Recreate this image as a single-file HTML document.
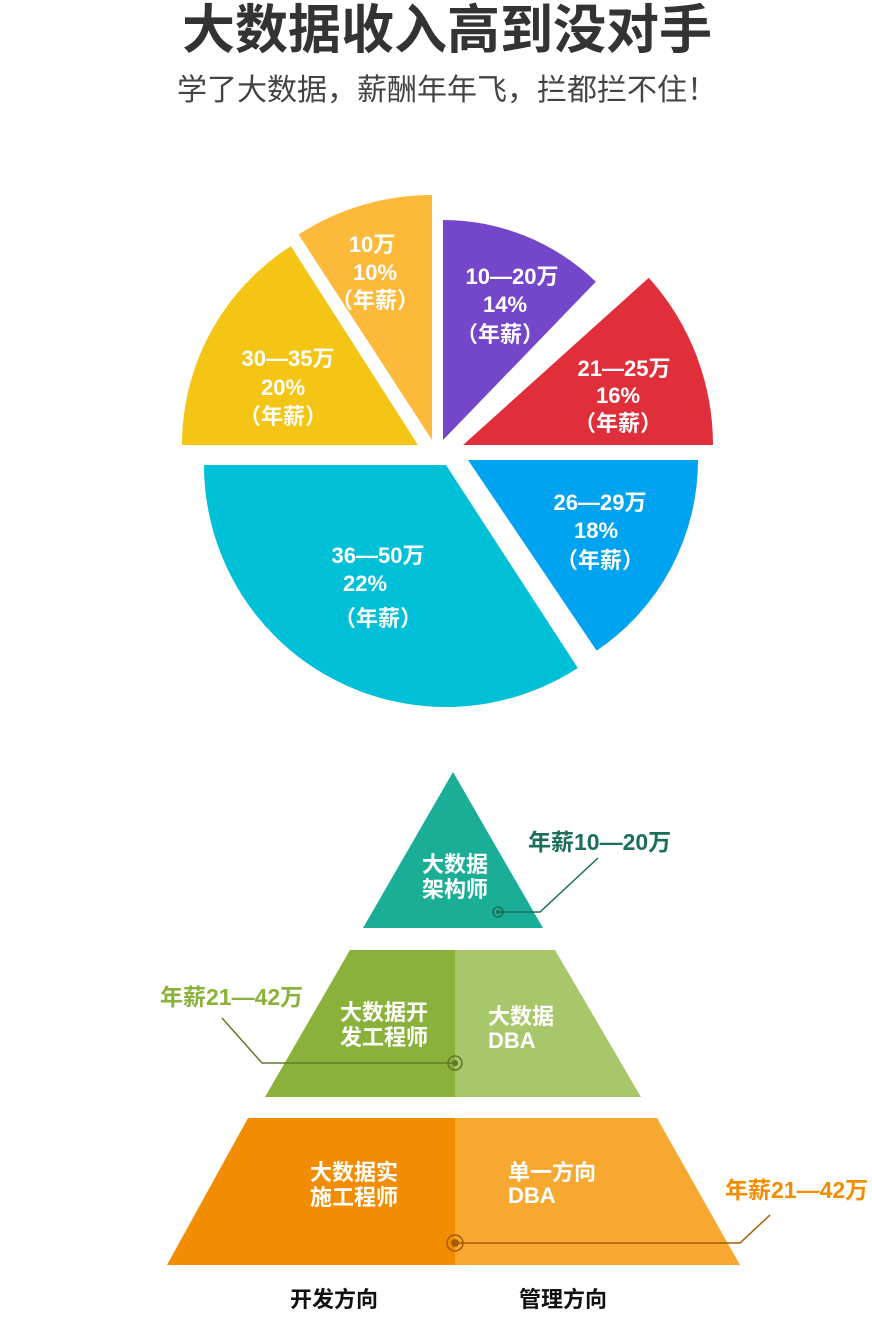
<!DOCTYPE html>
<html><head><meta charset="utf-8"><style>
body{margin:0;background:#fff;width:872px;height:1312px;overflow:hidden;font-family:"Liberation Sans","Noto Sans CJK SC",sans-serif}
</style></head><body>
<svg width="872" height="1312" xmlns="http://www.w3.org/2000/svg" font-family="Liberation Sans, Noto Sans CJK SC, sans-serif">
<text x="447" y="48" text-anchor="middle" font-size="53" font-weight="bold" fill="#333">大数据收入高到没对手</text>
<text x="447" y="100" text-anchor="middle" font-size="30" fill="#444">学了大数据，薪酬年年飞，拦都拦不住！</text>
<g id="pie"></g>
<g font-size="22" font-weight="bold" fill="#fff" text-anchor="middle">
<text x="372" y="252">10万</text><text x="375" y="280">10%</text><text x="375" y="308">（年薪）</text>
<text x="512" y="284">10—20万</text><text x="505" y="312">14%</text><text x="500" y="342">（年薪）</text>
<text x="624" y="376">21—25万</text><text x="618" y="403">16%</text><text x="618" y="431">（年薪）</text>
<text x="600" y="510">26—29万</text><text x="596" y="538">18%</text><text x="600" y="568">（年薪）</text>
<text x="378" y="563">36—50万</text><text x="365" y="591">22%</text><text x="378" y="626">（年薪）</text>
<text x="288" y="366">30—35万</text><text x="283" y="395">20%</text><text x="283" y="424">（年薪）</text>
</g>
<polygon points="453,772 543,928 363,928" fill="#1aae97"/>
<polygon points="350,950 455,950 455,1097 265,1097" fill="#8ab13a"/>
<polygon points="455,950 555,950 641,1097 455,1097" fill="#a8c66a"/>
<polygon points="248,1118 455,1118 455,1265 167,1265" fill="#f28c00"/>
<polygon points="455,1118 657,1118 740,1265 455,1265" fill="#f7a830"/>
<g font-size="22" font-weight="bold" fill="#fff">
<text x="422" y="872">大数据</text><text x="422" y="897">架构师</text>
<text x="340" y="1020">大数据开</text><text x="340" y="1045">发工程师</text>
<text x="488" y="1024">大数据</text><text x="488" y="1048">DBA</text>
<text x="310" y="1180">大数据实</text><text x="310" y="1205">施工程师</text>
<text x="508" y="1180">单一方向</text><text x="508" y="1203">DBA</text>
</g>
<g fill="none" stroke-width="1.5">
<polyline points="498,912 540,912 598,858" stroke="#1b6f5c"/>
<circle cx="498" cy="912" r="5" stroke="#1b6f5c"/>
<polyline points="455,1063 262,1063 222,1018" stroke="#5f7a28"/>
<circle cx="455" cy="1063" r="7" stroke="#5f7a28"/>
<polyline points="455,1243 740,1243 770,1215" stroke="#a55a00"/>
<circle cx="455" cy="1243" r="8" stroke="#a55a00"/>
</g>
<circle cx="498" cy="912" r="2" fill="#1b6f5c"/>
<circle cx="455" cy="1063" r="3" fill="#5f7a28"/>
<circle cx="455" cy="1243" r="4" fill="#a55a00"/>
<g font-size="23" font-weight="bold">
<text x="528" y="850" fill="#1b6f5c">年薪10—20万</text>
<text x="160" y="1005" fill="#8ab13a">年薪21—42万</text>
<text x="725" y="1198" fill="#f28c00">年薪21—42万</text>
</g>
<g font-size="22" font-weight="bold" fill="#111">
<text x="290" y="1307">开发方向</text>
<text x="519" y="1307">管理方向</text>
</g>
</svg>
<script>
var s=[[443,440,220,-90,-46,"#7446c9"],[463,445,250,-42,0,"#e02f3a"],[468,460,230,0,56,"#00a3ef"],[446,465,242,57,180,"#00c0d8"],[418,445,236,180,237.4,"#f4c514"],[432,440,245,237,270,"#fdb93a"]];
var g=document.getElementById("pie"),h="";
s.forEach(function(a){var r=Math.PI/180,x1=a[0]+a[2]*Math.cos(a[3]*r),y1=a[1]+a[2]*Math.sin(a[3]*r),x2=a[0]+a[2]*Math.cos(a[4]*r),y2=a[1]+a[2]*Math.sin(a[4]*r);var l=(a[4]-a[3])>180?1:0;
h+='<path d="M'+a[0]+','+a[1]+' L'+x1+','+y1+' A'+a[2]+','+a[2]+' 0 '+l+' 1 '+x2+','+y2+' Z" fill="'+a[5]+'"/>';});
g.innerHTML=h;
</script>
</body></html>
